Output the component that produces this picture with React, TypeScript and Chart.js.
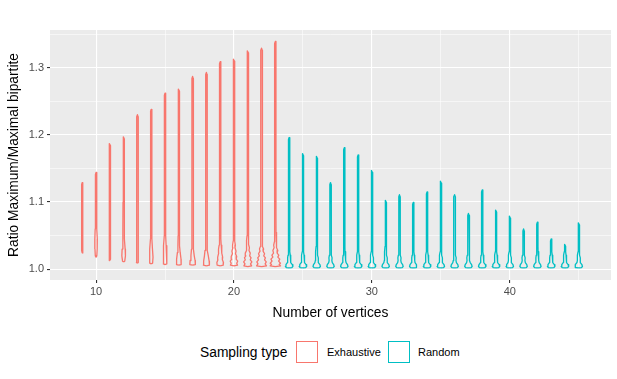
import React, { useEffect, useRef } from "react";
import { Chart, registerables } from "chart.js";

Chart.register(...registerables);

const FONT = "'Liberation Sans', Arial, Helvetica, sans-serif";
const EXHAUSTIVE_COLOR = "#F8766D";
const RANDOM_COLOR = "#00BFC4";

// Exhaustive sampling: vertex counts, lowest and highest ratio of each violin
const exhaustiveVertices = [9, 10, 11, 12, 13, 14, 15, 16, 17, 18, 19, 20, 21, 22, 23];
const exhaustiveMin = [1.024, 1.018, 1.013, 1.011, 1.009, 1.008, 1.007, 1.006, 1.006, 1.005, 1.005, 1.005, 1.004, 1.004, 1.004];
const exhaustiveMax = [1.129, 1.144, 1.187, 1.197, 1.23, 1.238, 1.262, 1.268, 1.287, 1.293, 1.309, 1.3125, 1.325, 1.329, 1.339];

// Random sampling
const randomVertices = [24, 25, 26, 27, 28, 29, 30, 31, 32, 33, 34, 35, 36, 37, 38, 39, 40, 41, 42, 43, 44, 45];
const randomMin = [1.002, 1.002, 1.002, 1.002, 1.002, 1.002, 1.002, 1.002, 1.002, 1.002, 1.002, 1.002, 1.002, 1.002, 1.002, 1.002, 1.002, 1.002, 1.002, 1.002, 1.002, 1.002];
const randomMax = [1.196, 1.172, 1.168, 1.129, 1.181, 1.17, 1.147, 1.1025, 1.111, 1.0995, 1.115, 1.131, 1.111, 1.083, 1.118, 1.088, 1.079, 1.06, 1.07, 1.045, 1.037, 1.069];

// Violin bodies: [ratio, half width as a share of one vertex step]; the last entry is the stem
type Profile = [number, number][];
const bodyN9: Profile = [[1.027, 0.04], [1.06, 0.048], [1.1, 0.045]];
const bodyN10: Profile = [[1.02, 0.055], [1.03, 0.08], [1.045, 0.09], [1.06, 0.065], [1.08, 0.048], [1.1, 0.045]];
const bodyN11: Profile = [[1.015, 0.05], [1.03, 0.05], [1.06, 0.046], [1.1, 0.045]];
const bodyN12: Profile = [[1.012, 0.08], [1.02, 0.13], [1.03, 0.11], [1.045, 0.065], [1.06, 0.048], [1.1, 0.045]];
const bodyN13: Profile = [[1.01, 0.075], [1.02, 0.075], [1.04, 0.055], [1.07, 0.046], [1.1, 0.045]];
const bodyN14: Profile = [[1.009, 0.1], [1.018, 0.13], [1.03, 0.09], [1.045, 0.055], [1.07, 0.046], [1.1, 0.045]];
const bodyN15: Profile = [[1.008, 0.12], [1.02, 0.14], [1.035, 0.08], [1.05, 0.052], [1.08, 0.046], [1.1, 0.045]];
const bodyN16: Profile = [[1.007, 0.17], [1.015, 0.16], [1.025, 0.1], [1.035, 0.065], [1.05, 0.05], [1.08, 0.046], [1.1, 0.045]];
const bodyN17: Profile = [[1.007, 0.2], [1.013, 0.18], [1.02, 0.12], [1.03, 0.08], [1.04, 0.062], [1.06, 0.048], [1.1, 0.045]];
const bodyN18: Profile = [[1.006, 0.22], [1.012, 0.2], [1.02, 0.14], [1.028, 0.1], [1.035, 0.065], [1.05, 0.05], [1.08, 0.046], [1.1, 0.045]];
const bodyN19: Profile = [[1.006, 0.22], [1.01, 0.24], [1.014, 0.16], [1.018, 0.18], [1.024, 0.11], [1.03, 0.12], [1.036, 0.075], [1.045, 0.056], [1.07, 0.046], [1.1, 0.045]];
const bodyN20: Profile = [[1.006, 0.26], [1.009, 0.2], [1.012, 0.27], [1.015, 0.16], [1.019, 0.2], [1.023, 0.11], [1.027, 0.15], [1.032, 0.075], [1.036, 0.1], [1.042, 0.056], [1.05, 0.065], [1.07, 0.046], [1.1, 0.045]];
const bodyN21: Profile = [[1.005, 0.28], [1.008, 0.2], [1.011, 0.3], [1.014, 0.18], [1.017, 0.24], [1.02, 0.14], [1.024, 0.18], [1.028, 0.09], [1.032, 0.12], [1.037, 0.065], [1.043, 0.08], [1.05, 0.052], [1.08, 0.046], [1.1, 0.045]];
const bodyN22: Profile = [[1.005, 0.36], [1.008, 0.26], [1.011, 0.34], [1.014, 0.22], [1.017, 0.28], [1.02, 0.16], [1.023, 0.22], [1.027, 0.11], [1.03, 0.15], [1.034, 0.08], [1.038, 0.1], [1.043, 0.056], [1.05, 0.065], [1.07, 0.046], [1.1, 0.045]];
const bodyN23: Profile = [[1.005, 0.38], [1.007, 0.28], [1.009, 0.37], [1.012, 0.24], [1.015, 0.32], [1.018, 0.18], [1.021, 0.25], [1.024, 0.13], [1.028, 0.18], [1.032, 0.09], [1.036, 0.12], [1.041, 0.065], [1.047, 0.075], [1.055, 0.05], [1.08, 0.046], [1.1, 0.045]];
const exhaustiveBodies = [bodyN9, bodyN10, bodyN11, bodyN12, bodyN13, bodyN14, bodyN15, bodyN16, bodyN17, bodyN18, bodyN19, bodyN20, bodyN21, bodyN22, bodyN23];
const randomBody: Profile = [[1.0025, 0.2], [1.004, 0.27], [1.007, 0.23], [1.01, 0.13], [1.013, 0.1], [1.017, 0.115], [1.021, 0.08], [1.026, 0.052], [1.034, 0.045]];

// Axis ticks
const xGridValues = [10, 15, 20, 25, 30, 35, 40, 45];
const xLabelValues = [10, 20, 30, 40];
const yGridValues = [1.0, 1.05, 1.1, 1.15, 1.2, 1.25, 1.3, 1.35];
const yLabelValues = [1.0, 1.1, 1.2, 1.3];

const isLabelled = (v: number, list: number[]) => list.some((l) => Math.abs(l - v) < 1e-6);

function outline(n: number, min: number, max: number, body: Profile) {
  const inside = body.filter((p) => p[0] < max - 0.004);
  const stem = inside.length ? inside[inside.length - 1][1] : 0.045;
  const prof: Profile = [[min, 0], ...inside, [max - 0.003, stem], [max, 0]];
  const left = prof.map(([y, w]) => ({ x: n - w, y }));
  const right = prof
    .slice()
    .reverse()
    .map(([y, w]) => ({ x: n + w, y }));
  return [...left, ...right.slice(1)];
}

const panelBackground = {
  id: "panelBackground",
  beforeDraw(chart: any) {
    const { ctx, chartArea } = chart;
    ctx.save();
    ctx.fillStyle = "#EBEBEB";
    ctx.fillRect(chartArea.left, chartArea.top, chartArea.right - chartArea.left, chartArea.bottom - chartArea.top);
    ctx.restore();
  },
};

export default function App() {
  const canvasRef = useRef<HTMLCanvasElement | null>(null);

  useEffect(() => {
    if (!canvasRef.current) return;
    const datasets: any[] = [];
    const style = (color: string) => ({
      borderColor: color,
      backgroundColor: "rgba(0,0,0,0)",
      borderWidth: 1.3,
      borderJoinStyle: "round",
      showLine: true,
      pointRadius: 0,
      fill: false,
      tension: 0,
    });
    exhaustiveVertices.forEach((n, i) => {
      datasets.push({
        label: "Exhaustive " + n,
        data: outline(n, exhaustiveMin[i], exhaustiveMax[i], exhaustiveBodies[i]),
        ...style(EXHAUSTIVE_COLOR),
      });
    });
    randomVertices.forEach((n, i) => {
      datasets.push({
        label: "Random " + n,
        data: outline(n, randomMin[i], randomMax[i], randomBody),
        ...style(RANDOM_COLOR),
      });
    });

    const chart = new Chart(canvasRef.current, {
      type: "scatter",
      data: { datasets },
      plugins: [panelBackground],
      options: {
        animation: false,
        responsive: false,
        maintainAspectRatio: false,
        devicePixelRatio: 1,
        layout: { padding: { top: 30, right: 6, left: 0, bottom: 0 } },
        plugins: { legend: { display: false }, tooltip: { enabled: false } },
        scales: {
          x: {
            type: "linear",
            min: 6.66,
            max: 47.34,
            afterBuildTicks: (s: any) => {
              s.ticks = xGridValues.map((v) => ({ value: v }));
            },
            afterFit: (s: any) => {
              s.height = 50;
            },
            border: { display: false },
            grid: {
              color: "#FFFFFF",
              lineWidth: (c: any) => (isLabelled(c.tick.value, xLabelValues) ? 1.1 : 0.55),
              tickColor: (c: any) => (isLabelled(c.tick.value, xLabelValues) ? "#333333" : "rgba(0,0,0,0)"),
              tickLength: 3,
              tickWidth: 1.1,
              drawTicks: true,
            },
            ticks: {
              color: "#4D4D4D",
              font: { family: FONT, size: 11 },
              padding: 2,
              maxRotation: 0,
              autoSkip: false,
              callback: (v: any) => (isLabelled(Number(v), xLabelValues) ? String(v) : ""),
            },
            title: {
              display: true,
              text: "Number of vertices",
              color: "#000000",
              font: { family: FONT, size: 13.8 },
              padding: { top: 0, bottom: 9 },
            },
          },
          y: {
            type: "linear",
            min: 0.984,
            max: 1.356,
            afterBuildTicks: (s: any) => {
              s.ticks = yGridValues.map((v) => ({ value: v }));
            },
            afterFit: (s: any) => {
              s.width = 50;
            },
            border: { display: false },
            grid: {
              color: "#FFFFFF",
              lineWidth: (c: any) => (isLabelled(c.tick.value, yLabelValues) ? 1.1 : 0.55),
              tickColor: (c: any) => (isLabelled(c.tick.value, yLabelValues) ? "#333333" : "rgba(0,0,0,0)"),
              tickLength: 3,
              tickWidth: 1.1,
              drawTicks: true,
            },
            ticks: {
              color: "#4D4D4D",
              font: { family: FONT, size: 11 },
              padding: 3,
              autoSkip: false,
              callback: (v: any) => (isLabelled(Number(v), yLabelValues) ? Number(v).toFixed(1) : ""),
            },
            title: {
              display: true,
              text: "Ratio Maximum/Maximal bipartite",
              color: "#000000",
              font: { family: FONT, size: 13.8 },
              padding: { top: 6, bottom: 0 },
            },
          },
        },
      } as any,
    });
    return () => chart.destroy();
  }, []);

  const box = (color: string, left: number) => (
    <div
      style={{
        position: "absolute",
        left,
        top: 341,
        width: 20,
        height: 20,
        border: `1.3px solid ${color}`,
        background: "#FFFFFF",
      }}
    />
  );
  const label = (text: string, left: number, size: number) => (
    <div
      style={{
        position: "absolute",
        left,
        top: 342,
        height: 21,
        lineHeight: "21px",
        fontFamily: FONT,
        fontSize: size,
        color: "#000000",
        whiteSpace: "nowrap",
      }}
    >
      {text}
    </div>
  );

  return (
    <div style={{ position: "absolute", left: 0, top: 0, width: 617, height: 379, background: "#FFFFFF", overflow: "hidden" }}>
      <canvas ref={canvasRef} width={617} height={330} style={{ position: "absolute", left: 0, top: 0, width: 617, height: 330 }} />
      {label("Sampling type", 200, 13.8)}
      {box(EXHAUSTIVE_COLOR, 296)}
      {label("Exhaustive", 327, 11)}
      {box(RANDOM_COLOR, 388)}
      {label("Random", 418, 11)}
    </div>
  );
}
